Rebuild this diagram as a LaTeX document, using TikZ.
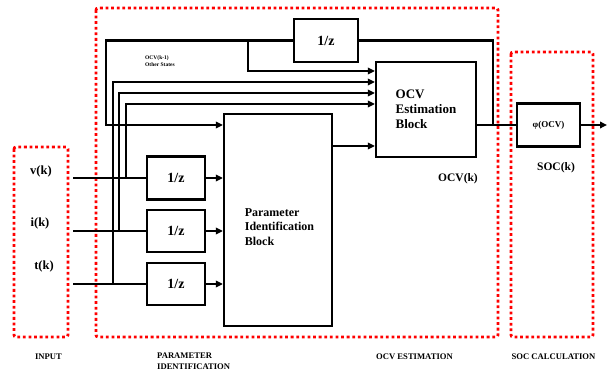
\documentclass[tikz,border=0pt]{standalone}
\usepackage{fontspec}
\setmainfont{Liberation Serif}
\usetikzlibrary{arrows.meta}
\begin{document}
\begin{tikzpicture}[x=1pt,y=-1pt,
  box/.style={draw=black,line width=2.2pt,inner sep=0pt,font=\bfseries\fontsize{14}{14}\selectfont},
  wire/.style={line width=2.2pt},
  arr/.style={wire,-{Triangle[length=7pt,width=6.5pt]}},
  region/.style={draw=red,line width=2.8pt,dash pattern=on 2.8pt off 2.8pt,rounded corners=2pt},
  lbl/.style={inner sep=0pt,font=\bfseries\fontsize{12.5}{14}\selectfont},
  sect/.style={inner sep=0pt,font=\bfseries\fontsize{8.6}{10.2}\selectfont}]
\useasboundingbox (0,0) rectangle (608,371);
\fill[white] (0,0) rectangle (608,371);

% regions
\draw[region] (14,147) rectangle (68,337);
\draw[region] (96,8) rectangle (498,337);
\draw[region] (511,52) rectangle (593,337);

% blocks
\node[box,minimum width=100pt,minimum height=95pt,align=left,
      font=\bfseries\fontsize{13}{15}\selectfont] (ocv) at (426,109.5) {OCV\\Estimation\\Block};
\node[box,minimum width=108pt,minimum height=212pt] (param) at (278,220) {};
\node[inner sep=0pt,align=left,font=\bfseries\fontsize{12}{14.5}\selectfont] (paramtxt) at (279.5,227) {Parameter\\Identification\\Block};
\node[box,minimum width=64pt,minimum height=43pt] (dz) at (326,40.5) {1/z};
\node[box,minimum width=58pt,minimum height=43pt] (z1) at (176,178) {1/z};
\node[box,minimum width=58pt,minimum height=42pt] (z2) at (176,231) {1/z};
\node[box,minimum width=58pt,minimum height=42pt] (z3) at (176,284) {1/z};
\node[box,minimum width=63pt,minimum height=43pt,font=\bfseries\fontsize{9}{9}\selectfont] (phi) at (548.5,125) {φ(OCV)};

% labels
\node[lbl] (vk) at (41,171) {v(k)};
\node[lbl] (ik) at (40,223) {i(k)};
\node[lbl] (tk) at (44,266) {t(k)};
\node[inner sep=0pt,font=\bfseries\fontsize{11.5}{12}\selectfont] (ocvk) at (458,179) {OCV(k)};
\node[inner sep=0pt,font=\bfseries\fontsize{11.5}{12}\selectfont] (sock) at (556,168) {SOC(k)};
\node[anchor=west,inner sep=0pt,align=left,font=\bfseries\fontsize{5.5}{6.8}\selectfont] (oth) at (145,61.5) {OCV(k-1)\\Other States};
\node[sect] (sin) at (48.5,357) {INPUT};
\node[sect,anchor=north west,align=left] (spi) at (157,353) {PARAMETER\\IDENTIFICATION};
\node[sect] (socv) at (414.5,357) {OCV ESTIMATION};
\node[sect] (ssoc) at (553.5,357) {SOC CALCULATION};

% coordinates
\coordinate (vin) at (73,178);
\coordinate (iin) at (73,231);
\coordinate (tin) at (73,284);
\coordinate (tv) at (126,178);
\coordinate (ti) at (119,231);
\coordinate (tt) at (113,284);
\coordinate (fb) at (493,125);
\coordinate (fl) at (106,40.5);
\coordinate (br) at (248,40.5);
\coordinate (socout) at (607,125);

% inputs
\draw[wire] (vin) -- (z1.west);
\draw[wire] (iin) -- (z2.west);
\draw[wire] (tin) -- (z3.west);
\draw[arr] (z1.east) -- (z1.east -| param.west);
\draw[arr] (z2.east) -- (z2.east -| param.west);
\draw[arr] (z3.east) -- (z3.east -| param.west);

% taps to OCV block
\draw[arr] (tt) |- (ocv.west |- 0,82);
\draw[arr] (ti) |- (ocv.west |- 0,93);
\draw[arr] (tv) |- (ocv.west |- 0,104);

% feedback
\draw[wire] (ocv.east |- phi.west) -- (phi.west);
\draw[wire] (fb) |- (dz.east);
\draw[arr] (dz.west) -- (fl) |- (param.west |- 0,125);
\draw[arr] (br) |- (ocv.west |- 0,71);
\draw[arr] (param.east |- 0,146) -- (ocv.west |- 0,146);
\draw[arr] (phi.east) -- (socout);
\end{tikzpicture}
\end{document}
